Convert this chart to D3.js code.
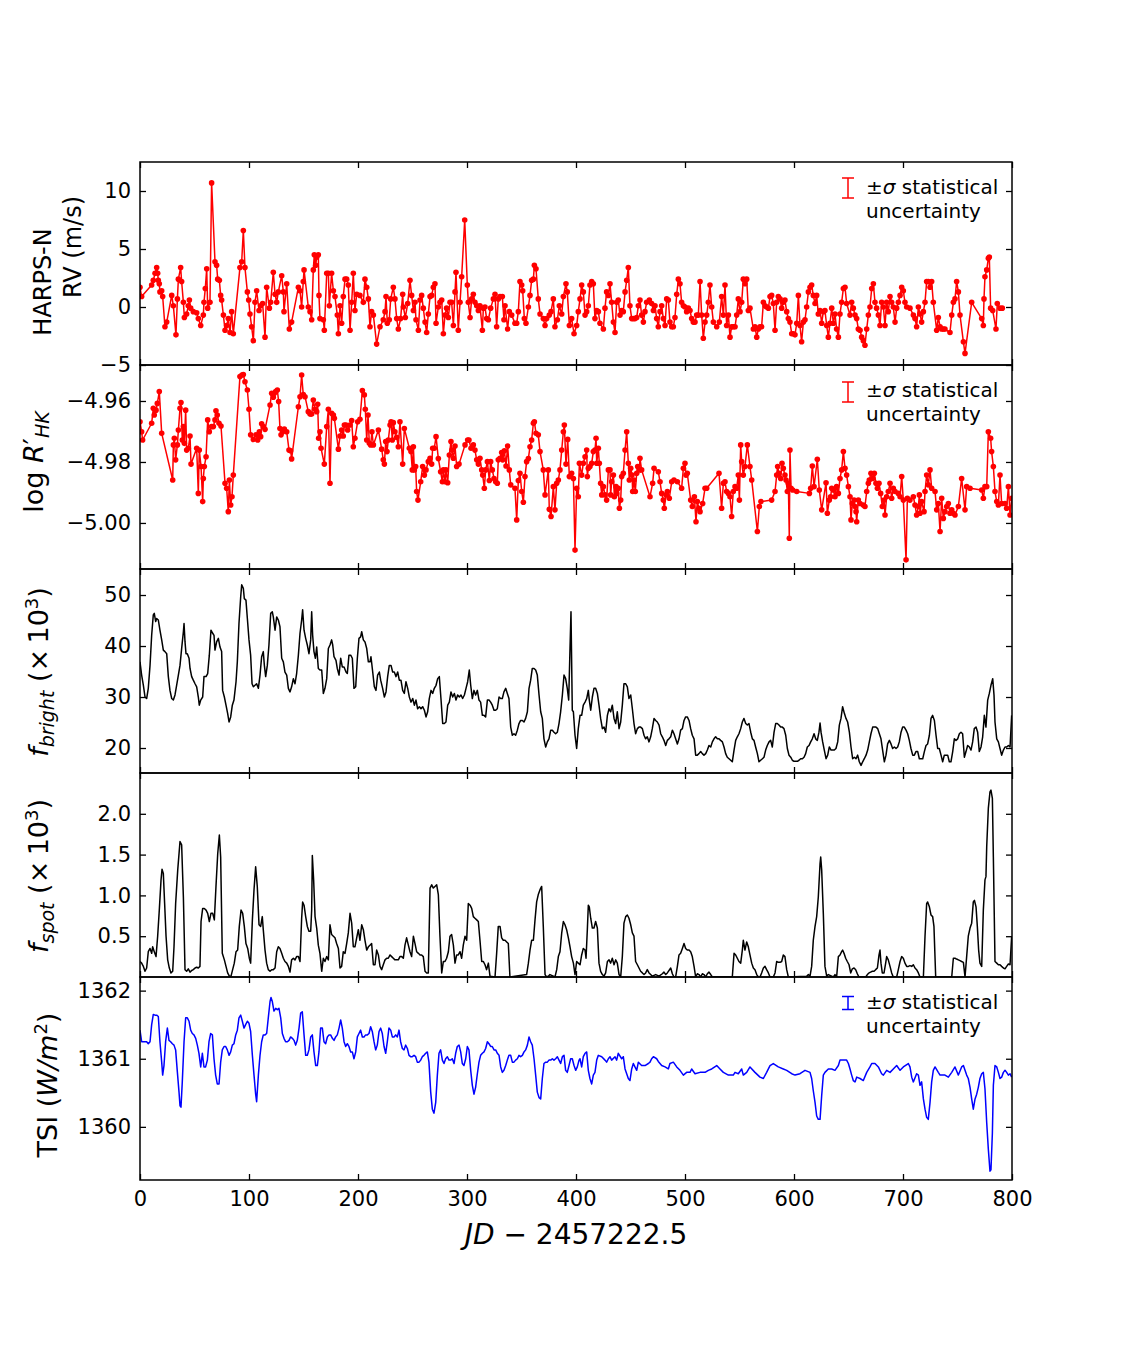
<!DOCTYPE html>
<html><head><meta charset="utf-8">
<script src="https://cdn.jsdelivr.net/npm/d3@7"></script>
<style>body{margin:0;background:#fff}</style>
</head><body>
<script>
const xTicks=[0,100,200,300,400,500,600,700,800];
const rvTicks=[-5,0,5,10];
const logrTicks=[-5.00,-4.98,-4.96];
const brightTicks=[20,30,40,50];
const spotTicks=[0.5,1.0,1.5,2.0];
const tsiTicks=[1360,1361,1362];

const rvData=[[0,1.7],[1.5,0.9],[10.7,1.9],[12.2,2.3],[13.8,2.9],[15.3,3.4],[16.2,2.9],[16.8,2.3],[17.7,2.0],[18.3,1.3],[19.9,1.4],[20.8,0.9],[22.9,-1.7],[24.5,-1.3],[29.1,1.0],[30.6,0.1],[33.0,-2.4],[34.3,0.7],[35.2,2.4],[37.3,3.4],[38.2,2.2],[39.8,0.4],[40.7,-0.9],[42.8,-0.6],[44.3,0.1],[45.3,0.6],[46.5,-0.1],[48.9,-0.4],[52.0,-0.5],[53.5,-1.0],[55.7,-1.6],[58.1,-0.7],[58.7,0.4],[59.9,1.6],[61.2,3.3],[62.1,-0.1],[64.2,0.4],[65.7,10.7],[68.8,3.9],[70.3,3.6],[71.3,2.4],[72.8,2.3],[74.0,1.0],[74.9,0.6],[76.5,-0.7],[78.0,-2.0],[79.5,-1.6],[81.0,-1.0],[82.6,-2.2],[84.1,-0.4],[85.6,-2.3],[91.7,3.4],[93.3,3.9],[94.8,6.6],[96.3,3.4],[98.5,1.3],[99.7,0.6],[100.9,-0.6],[102.4,-1.7],[104.0,-2.9],[105.5,0.4],[107.0,1.4],[109.2,-0.3],[110.7,0.1],[112.5,0.3],[114.7,-2.6],[116.2,1.7],[118.7,-0.1],[119.9,0.4],[122.3,3.0],[123.9,1.1],[125.4,0.4],[126.9,1.3],[130.0,2.7],[131.5,1.3],[132.1,-0.4],[134.6,2.0],[137.0,-1.9],[139.1,-1.3],[145.3,1.7],[146.8,1.4],[148.3,0.0],[149.8,2.2],[150.5,3.2],[154.4,0.0],[156.0,-0.4],[157.5,-1.1],[159.0,3.2],[159.9,4.5],[161.2,3.6],[162.1,4.3],[163.6,4.5],[164.2,1.0],[165.1,-1.0],[168.2,-1.1],[169.1,-2.0],[171.3,2.9],[172.8,2.9],[173.7,0.1],[175.8,2.9],[177.4,1.4],[178.9,0.9],[181.0,-0.7],[182.0,-2.3],[183.5,0.1],[185.0,-1.4],[186.5,0.9],[188.1,2.4],[189.6,2.4],[191.1,1.9],[192.7,-2.0],[194.2,0.4],[195.7,2.9],[197.2,-0.3],[198.8,1.1],[201.8,1.0],[204.9,0.4],[206.4,2.4],[208.0,1.7],[209.5,0.7],[211.0,-1.7],[212.5,-0.4],[214.1,-0.7],[217.1,-3.2],[220.2,-1.7],[223.2,-1.1],[224.8,-0.4],[225.7,0.9],[226.9,-1.4],[228.7,-1.1],[230.0,0.7],[232.4,1.7],[233.9,0.7],[235.5,-1.0],[237.0,-1.9],[239.1,-1.0],[241.0,1.1],[241.6,0.0],[243.4,-0.9],[245.6,0.3],[247.7,2.3],[249.2,1.0],[250.8,-0.3],[252.3,0.4],[253.2,-1.1],[255.4,-2.0],[256.9,0.6],[258.4,1.0],[259.9,-0.1],[261.5,-1.3],[263.0,-2.2],[264.5,-0.6],[266.1,0.9],[267.6,1.0],[269.1,1.7],[270.6,2.0],[271.6,-1.4],[273.7,0.0],[275.2,0.4],[276.8,0.6],[278.3,-2.3],[279.8,-0.7],[281.3,-0.1],[282.9,-0.9],[284.4,0.4],[285.9,0.4],[287.5,-1.6],[289.0,1.3],[289.9,3.0],[292.0,-2.0],[293.6,0.4],[295.1,2.6],[297.9,7.5],[300.3,1.9],[301.2,0.4],[302.8,-0.9],[304.3,0.7],[305.8,1.1],[307.3,0.4],[308.9,0.1],[310.4,-0.3],[311.9,0.1],[314.1,-2.0],[315.0,-0.1],[316.5,0.0],[318.0,-1.0],[319.6,-1.1],[321.7,-0.1],[324.2,0.7],[325.7,1.1],[327.2,-1.7],[328.7,0.7],[330.3,0.9],[332.4,0.9],[333.9,-1.1],[334.9,0.1],[337.3,-1.9],[338.8,-0.4],[341.0,-0.7],[344.0,-1.4],[345.6,-1.4],[347.1,-0.4],[348.6,2.2],[350.2,1.9],[351.1,1.4],[352.6,-1.0],[354.1,-1.4],[356.3,0.0],[357.8,1.0],[359.3,2.3],[360.9,2.4],[361.8,3.6],[363.3,3.3],[365.4,0.7],[367.0,-0.6],[370.0,-1.0],[371.6,-1.6],[373.1,-1.0],[375.5,-0.7],[377.1,-0.4],[379.2,0.7],[380.7,-1.7],[382.9,-1.1],[384.7,0.1],[386.9,-0.6],[388.4,0.9],[390.8,2.0],[392.0,1.3],[393.9,-1.6],[396.0,-1.0],[398.2,-2.3],[400.6,-1.6],
[402.1,-0.4],[403.7,0.7],[405.2,1.9],[406.7,1.3],[408.3,-0.7],[409.8,-0.4],[411.3,0.1],[412.8,1.9],[414.4,2.2],[415.9,2.0],[417.4,-1.0],[419.0,-0.3],[420.5,-0.4],[422.0,-1.4],[425.1,-1.9],[426.6,-0.1],[428.1,1.3],[429.7,1.0],[431.2,2.0],[432.7,0.4],[434.3,-1.3],[435.8,-2.2],[437.3,0.4],[438.8,0.6],[440.4,-0.7],[441.9,-0.3],[443.4,-0.4],[445.0,1.3],[446.5,2.3],[448.0,3.4],[449.5,0.1],[451.1,-1.0],[452.6,-1.0],[454.1,-1.0],[455.7,-0.9],[457.2,0.1],[458.7,0.6],[460.2,-0.7],[461.8,-1.3],[463.3,-0.4],[464.8,0.4],[467.3,0.6],[469.4,0.3],[471.0,-0.3],[472.5,0.1],[474.0,-1.0],[475.5,-1.7],[477.1,-0.4],[478.6,0.1],[480.1,-1.0],[481.7,-1.6],[483.2,0.7],[484.7,0.6],[486.2,-1.3],[487.8,-1.7],[489.3,-1.7],[490.8,-0.9],[492.4,1.1],[493.9,2.4],[495.4,2.0],[496.9,0.4],[498.5,0.1],[500.0,0.0],[501.5,-0.4],[503.1,-0.1],[504.6,-0.3],[506.1,-1.0],[507.6,-1.3],[509.2,-1.3],[510.7,-0.7],[512.2,-0.7],[513.8,2.2],[515.3,-0.7],[516.8,-2.7],[518.4,-1.3],[519.9,-0.7],[521.4,0.4],[522.9,1.9],[524.5,0.0],[526.0,-1.3],[529.1,-1.7],[531.5,-1.3],[533.6,0.9],[535.2,-0.7],[536.7,1.9],[538.2,-1.6],[539.8,-0.7],[541.3,-2.6],[542.8,-1.7],[544.3,-1.7],[545.9,-1.7],[547.4,-0.7],[548.9,0.7],[550.5,-0.4],[552.0,0.4],[553.5,2.4],[555.0,2.0],[556.6,2.4],[558.1,-0.3],[559.6,-0.1],[562.7,-1.9],[564.2,-1.7],[565.8,-2.6],[567.3,-1.9],[568.8,-1.7],[570.3,-1.7],[571.9,0.4],[573.4,0.1],[574.9,0.0],[576.5,-0.1],[578.0,0.9],[579.5,1.0],[581.0,0.3],[582.6,-2.0],[584.1,0.4],[585.6,0.9],[587.2,0.7],[588.7,-0.1],[590.2,0.4],[591.7,0.6],[593.3,-0.4],[594.8,-1.0],[596.3,-1.3],[597.9,-2.3],[599.4,-2.3],[600.9,-2.4],[602.5,-1.4],[604.0,1.0],[605.5,-1.6],[607.0,-3.0],[608.6,-1.3],[610.1,-1.1],[611.6,0.0],[613.2,1.3],[614.7,1.7],[616.2,1.9],[617.7,1.0],[619.3,0.3],[620.8,1.0],[622.3,-0.6],[623.9,-0.3],[625.4,-1.4],[626.9,-0.4],[628.4,-0.3],[630.0,-1.6],[631.5,-2.6],[633.0,-1.4],[634.6,-0.1],[636.1,-1.4],[637.6,-0.6],[639.1,-1.9],[640.7,-2.6],[642.2,-0.6],[643.7,0.4],[645.3,1.6],[646.8,1.7],[648.3,0.3],[651.4,-0.7],[652.9,0.4],[654.4,-0.1],[656.0,-0.7],[657.5,-1.0],[659.0,-1.9],[660.6,-2.0],[662.1,-2.6],[663.6,-2.9],[665.1,-3.3],[666.7,-1.9],[668.2,-0.7],[669.7,0.0],[671.3,1.6],[672.8,2.0],[674.3,0.4],[675.8,-0.1],[677.4,-0.7],[678.9,-1.6],[680.4,0.4],[682.0,0.0],[683.5,-1.6],[685.0,0.4],[686.5,-0.4],[688.1,0.9],[689.6,0.4],[691.1,0.0],[692.7,-1.3],[694.2,-0.1],[695.7,0.4],[697.3,1.0],[698.8,1.7],[700.3,1.4],[701.8,0.4],[703.4,0.0],[706.4,-0.1],[709.5,-0.7],[711.0,-1.0],[712.5,-1.7],[714.1,0.0],[715.6,-0.6],[717.1,-1.3],[718.7,-0.4],[720.2,0.4],[721.7,2.2],[723.2,2.2],[724.8,1.7],[726.3,2.2],[727.8,0.4],[730.9,-2.0],[732.4,-0.9],[734.0,-1.7],[735.5,-1.9],[737.0,-1.9],[738.5,-1.9],[743.1,-2.2],[744.7,-0.7],[746.2,0.4],[747.7,0.7],[749.2,2.2],[750.8,1.3],[752.3,-0.7],[755.4,-3.0],[756.9,-4.0],[763.0,0.4],[772.2,-1.0],[773.7,-1.6],[774.3,0.7],[775.2,2.6],[776.8,3.2],[778.3,4.2],[779.2,4.3],[780.4,-0.1],[782.3,-0.3],[785.3,-1.9],[786.5,0.3],[789.0,-0.1],[791.1,-0.1]];

const logrData=[[0,-4.9668],[1.5,-4.9701],[2.4,-4.9728],[10.7,-4.9673],[12.2,-4.9624],[13.1,-4.9646],[14.7,-4.9630],[15.9,-4.9608],[17.7,-4.9569],[19.9,-4.9706],[30.0,-4.9859],[30.6,-4.9744],[31.5,-4.9722],[32.7,-4.9793],[34.3,-4.9744],[35.2,-4.9695],[36.7,-4.9624],[37.6,-4.9605],[38.8,-4.9728],[39.8,-4.9684],[40.7,-4.9739],[41.9,-4.9630],[42.8,-4.9761],[44.3,-4.9755],[45.9,-4.9715],[46.8,-4.9807],[52.0,-4.9755],[53.5,-4.9903],[54.4,-4.9761],[56.0,-4.9815],[57.5,-4.9930],[58.1,-4.9854],[59.0,-4.9815],[60.6,-4.9783],[62.1,-4.9662],[63.6,-4.9701],[65.7,-4.9684],[67.3,-4.9684],[68.8,-4.9662],[69.7,-4.9632],[70.9,-4.9646],[72.5,-4.9673],[74.3,-4.9682],[78.0,-4.9870],[79.5,-4.9886],[81.0,-4.9963],[82.0,-4.9859],[83.2,-4.9941],[84.4,-4.9914],[85.6,-4.9843],[91.7,-4.9520],[93.6,-4.9515],[94.8,-4.9513],[96.3,-4.9537],[98.5,-4.9564],[100.0,-4.9627],[101.5,-4.9711],[104.0,-4.9726],[106.4,-4.9711],[108.0,-4.9728],[109.5,-4.9701],[110.7,-4.9717],[111.6,-4.9675],[113.1,-4.9684],[114.7,-4.9693],[119.3,-4.9613],[120.8,-4.9575],[122.3,-4.9588],[123.2,-4.9575],[124.5,-4.9569],[126.0,-4.9564],[127.2,-4.9602],[128.4,-4.9690],[129.4,-4.9711],[130.9,-4.9701],[132.4,-4.9692],[134.6,-4.9701],[136.7,-4.9761],[138.2,-4.9763],[139.1,-4.9790],[145.3,-4.9619],[146.8,-4.9586],[148.3,-4.9515],[149.8,-4.9579],[151.4,-4.9586],[154.4,-4.9635],[156.0,-4.9643],[157.5,-4.9643],[159.0,-4.9597],[160.6,-4.9627],[162.1,-4.9635],[163.0,-4.9611],[163.9,-4.9722],[165.1,-4.9701],[166.1,-4.9755],[169.1,-4.9807],[171.3,-4.9684],[172.8,-4.9627],[174.3,-4.9870],[175.8,-4.9640],[177.4,-4.9646],[178.3,-4.9657],[182.0,-4.9758],[183.5,-4.9715],[185.0,-4.9695],[186.5,-4.9715],[187.5,-4.9679],[189.0,-4.9679],[190.5,-4.9695],[192.7,-4.9679],[194.2,-4.9664],[195.7,-4.9750],[197.2,-4.9722],[199.7,-4.9668],[201.8,-4.9660],[204.0,-4.9566],[205.8,-4.9580],[206.7,-4.9627],[208.0,-4.9728],[209.2,-4.9646],[210.4,-4.9739],[211.6,-4.9744],[212.8,-4.9701],[214.1,-4.9744],[218.7,-4.9695],[221.7,-4.9758],[223.2,-4.9793],[224.2,-4.9807],[225.4,-4.9733],[226.6,-4.9766],[227.8,-4.9728],[229.4,-4.9679],[230.3,-4.9668],[231.5,-4.9728],[232.4,-4.9671],[233.9,-4.9701],[235.5,-4.9719],[237.0,-4.9750],[238.5,-4.9668],[241.0,-4.9807],[242.5,-4.9690],[247.1,-4.9755],[248.6,-4.9766],[249.8,-4.9826],[250.8,-4.9750],[251.7,-4.9826],[252.9,-4.9815],[253.8,-4.9897],[255.0,-4.9925],[257.5,-4.9865],[259.3,-4.9815],[260.9,-4.9843],[262.4,-4.9826],[264.5,-4.9799],[266.1,-4.9788],[267.6,-4.9807],[268.5,-4.9755],[270.0,-4.9755],[271.6,-4.9717],[273.7,-4.9789],[275.8,-4.9832],[277.4,-4.9865],[278.3,-4.9826],[279.8,-4.9865],[280.7,-4.9826],[282.3,-4.9868],[283.8,-4.9777],[285.3,-4.9733],[286.2,-4.9761],[287.5,-4.9788],[289.0,-4.9748],[290.5,-4.9815],[292.7,-4.9807],[298.2,-4.9744],[300.6,-4.9728],[301.8,-4.9728],[303.7,-4.9755],[305.8,-4.9744],[307.3,-4.9761],[308.9,-4.9793],[310.4,-4.9807],[311.9,-4.9788],[313.5,-4.9826],[314.4,-4.9843],[315.9,-4.9886],[317.1,-4.9826],[318.7,-4.9799],[320.5,-4.9861],[321.7,-4.9799],[323.2,-4.9826],[324.8,-4.9854],[326.3,-4.9865],[327.8,-4.9870],[328.7,-4.9793],[330.3,-4.9788],[331.8,-4.9769],[332.7,-4.9793],[334.3,-4.9763],[335.8,-4.9813],[337.3,-4.9748],[338.8,-4.9826],[340.1,-4.9875],[344.0,-4.9886],[345.6,-4.9990],[347.1,-4.9861],[348.6,-4.9837],[350.2,-4.9897],[351.7,-4.9932],[353.2,-4.9848],[354.7,-4.9799],[356.3,-4.9789],[357.8,-4.9750],[359.3,-4.9728],[360.9,-4.9673],[361.8,-4.9668],[363.3,-4.9706],[365.4,-4.9711],[367.0,-4.9766],[370.0,-4.9826],[371.6,-4.9908],[374.6,-4.9826],[375.5,-4.9955],[377.1,-4.9979],[379.2,-4.9881],[380.7,-4.9957],[382.3,-4.9870],[383.8,-4.9859],[385.3,-4.9826],[386.9,-4.9761],[388.4,-4.9701],[389.3,-4.9679],[390.8,-4.9807],[392.4,-4.9726],[393.9,-4.9848],[396.0,-4.9837],[397.6,-4.9854],[399.1,-5.0089],[400.6,-4.9886],[402.1,-4.9914],
[403.1,-4.9804],[405.2,-4.9843],[406.7,-4.9804],[408.3,-4.9783],[409.8,-4.9761],[410.4,-4.9848],[411.3,-4.9821],[412.8,-4.9815],[414.4,-4.9804],[415.9,-4.9766],[417.4,-4.9761],[418.4,-4.9722],[419.0,-4.9804],[420.5,-4.9755],[421.4,-4.9804],[422.6,-4.9870],[423.6,-4.9908],[425.1,-4.9881],[426.6,-4.9908],[428.1,-4.9925],[429.7,-4.9826],[431.2,-4.9826],[431.8,-4.9908],[432.7,-4.9865],[434.3,-4.9843],[435.2,-4.9914],[436.7,-4.9881],[437.3,-4.9903],[438.8,-4.9886],[439.8,-4.9952],[441.0,-4.9925],[441.9,-4.9848],[443.4,-4.9837],[445.0,-4.9761],[446.5,-4.9701],[448.0,-4.9804],[448.9,-4.9859],[450.2,-4.9821],[451.4,-4.9843],[452.0,-4.9897],[453.2,-4.9859],[454.4,-4.9897],[455.7,-4.9837],[456.6,-4.9815],[458.1,-4.9826],[458.7,-4.9788],[460.2,-4.9826],[467.9,-4.9914],[470.3,-4.9870],[471.6,-4.9821],[475.5,-4.9832],[477.1,-4.9865],[478.6,-4.9903],[480.1,-4.9925],[481.0,-4.9952],[482.6,-4.9908],[483.8,-4.9897],[485.6,-4.9919],[487.8,-4.9865],[489.9,-4.9859],[493.0,-4.9865],[496.9,-4.9886],[498.5,-4.9821],[500.0,-4.9804],[500.9,-4.9843],[502.1,-4.9837],[505.2,-4.9925],[506.7,-4.9946],[508.6,-4.9914],[510.1,-4.9996],[511.3,-4.9930],[512.8,-4.9952],[513.8,-4.9963],[516.2,-4.9936],[518.4,-4.9886],[519.9,-4.9886],[531.2,-4.9837],[533.6,-4.9952],[535.2,-4.9870],[536.7,-4.9865],[538.2,-4.9897],[539.8,-4.9903],[541.3,-4.9914],[542.8,-4.9979],[544.3,-4.9897],[545.9,-4.9881],[547.4,-4.9886],[548.9,-4.9843],[549.9,-4.9925],[551.1,-4.9744],[552.0,-4.9799],[553.5,-4.9843],[555.0,-4.9815],[557.2,-4.9744],[559.6,-4.9815],[561.2,-4.9859],[566.4,-5.0028],[568.2,-4.9946],[569.7,-4.9930],[579.5,-4.9925],[582.6,-4.9897],[584.1,-4.9843],[585.0,-4.9815],[586.2,-4.9837],[587.8,-4.9854],[589.0,-4.9804],[590.2,-4.9821],[591.7,-4.9843],[592.7,-4.9859],[593.9,-4.9897],[594.8,-4.9870],[595.7,-5.0050],[596.3,-4.9761],[597.3,-4.9886],[598.8,-4.9892],[602.5,-4.9897],[614.1,-4.9903],[615.3,-4.9886],[616.8,-4.9813],[618.4,-4.9881],[621.4,-4.9791],[623.2,-4.9892],[625.4,-4.9957],[629.4,-4.9868],[630.6,-4.9968],[632.4,-4.9925],[633.6,-4.9914],[634.6,-4.9886],[636.1,-4.9892],[637.6,-4.9914],[639.1,-4.9881],[640.7,-4.9903],[642.2,-4.9854],[643.7,-4.9826],[645.3,-4.9766],[646.8,-4.9821],[648.3,-4.9843],[649.9,-4.9881],[651.4,-4.9914],[652.3,-4.9990],[653.5,-4.9936],[655.1,-4.9925],[656.0,-4.9946],[656.9,-4.9963],[657.5,-4.9996],[659.0,-4.9925],[660.6,-4.9936],[663.6,-4.9941],[665.1,-4.9946],[666.7,-4.9897],[668.2,-4.9870],[669.1,-4.9859],[670.6,-4.9837],[672.2,-4.9854],[673.7,-4.9837],[675.2,-4.9870],[676.5,-4.9886],[678.0,-4.9870],[679.5,-4.9903],[681.0,-4.9946],[682.6,-4.9925],[683.5,-4.9974],[685.0,-4.9914],[686.5,-4.9897],[688.1,-4.9870],[689.6,-4.9919],[691.1,-4.9886],[692.7,-4.9897],[695.7,-4.9903],[697.3,-4.9914],[698.8,-4.9848],[700.3,-4.9925],[702.8,-5.0121],[704.0,-4.9919],[706.4,-4.9925],[709.5,-4.9914],[711.0,-4.9941],[712.5,-4.9974],[714.1,-4.9946],[715.0,-4.9908],[715.6,-4.9968],[717.1,-4.9930],[719.3,-4.9963],[720.2,-4.9897],[721.7,-4.9843],[723.2,-4.9875],[724.8,-4.9826],[726.3,-4.9886],[729.4,-4.9897],[730.9,-4.9957],[732.4,-4.9936],[734.0,-5.0028],[735.5,-4.9919],[737.0,-4.9985],[738.5,-4.9963],[740.1,-4.9946],[741.6,-4.9936],[743.1,-4.9968],[744.7,-4.9957],[746.2,-4.9968],[747.7,-4.9974],[750.8,-4.9946],[753.8,-4.9854],[756.9,-4.9957],[758.4,-4.9881],[761.5,-4.9886],[772.2,-4.9892],[773.7,-4.9919],[775.2,-4.9881],[776.8,-4.9881],[778.3,-4.9701],[780.4,-4.9722],[781.3,-4.9766],[782.9,-4.9815],[784.4,-4.9897],[786.0,-4.9930],[787.5,-4.9941],[789.0,-4.9843],[790.5,-4.9936],[793.6,-4.9936],[795.1,-4.9952],[796.7,-4.9881],[798.2,-4.9974],[799.7,-4.9919]];

const brightData=[[0.0,36.9],[1.5,34.3],[3.1,32.3],[4.6,30.0],[6.1,29.7],[7.6,31.7],[9.2,36.2],[10.7,42.1],[12.2,46.1],[13.1,46.4],[14.4,44.8],[15.3,45.4],[16.8,45.1],[18.3,43.1],[19.9,41.2],[21.4,39.2],[22.9,38.9],[24.5,38.5],[26.0,34.0],[27.5,31.3],[29.1,29.7],[30.6,29.4],[32.1,30.4],[33.6,32.3],[35.2,34.3],[36.7,36.2],[38.2,39.5],[39.8,42.8],[40.4,44.4],[41.3,40.8],[42.2,38.5],[43.4,38.5],[45.0,37.6],[45.9,35.6],[47.4,34.0],[48.9,33.3],[50.5,32.6],[52.0,32.0],[53.5,30.0],[54.4,28.4],[55.7,29.4],[57.5,30.0],[58.7,34.0],[60.6,34.0],[62.1,34.6],[63.6,38.2],[65.1,43.1],[66.7,42.5],[67.9,42.1],[68.8,39.2],[70.3,40.8],[71.9,41.5],[73.4,39.8],[74.9,38.9],[75.8,31.3],[77.4,30.0],[78.9,28.4],[80.4,26.8],[81.7,25.1],[83.2,26.1],[84.7,28.4],[86.2,29.4],[88.1,33.0],[89.3,36.9],[90.8,44.4],[92.4,49.7],[93.3,52.0],[94.8,51.3],[95.7,49.3],[97.2,49.0],[98.5,45.4],[100.0,41.2],[101.5,38.2],[102.8,32.6],[104.0,32.0],[105.5,32.3],[107.0,32.6],[108.6,31.7],[110.1,34.3],[111.6,37.9],[113.1,38.9],[114.1,36.2],[115.3,34.0],[116.8,36.2],[118.3,40.2],[119.9,46.4],[121.4,46.7],[122.3,45.7],[123.9,43.1],[125.4,45.7],[126.9,45.1],[128.4,43.8],[130.0,37.6],[131.5,36.9],[133.0,34.9],[134.6,34.3],[136.1,31.7],[137.6,31.0],[139.1,32.0],[140.7,33.6],[142.2,32.6],[143.7,34.6],[145.3,38.2],[146.8,42.5],[148.3,45.1],[149.2,47.1],[150.5,43.1],[152.0,41.5],[153.5,40.2],[155.0,38.5],[156.6,41.2],[157.5,46.7],[158.4,42.1],[159.6,38.9],[160.9,37.6],[162.1,39.8],[163.6,35.6],[165.1,35.3],[166.7,35.3],[168.2,30.7],[169.7,31.7],[171.3,33.6],[172.8,39.5],[174.3,40.2],[175.8,41.2],[176.8,40.2],[178.0,37.9],[179.8,37.2],[181.0,35.6],[182.6,34.3],[184.1,37.6],[185.6,35.9],[187.2,35.9],[189.0,34.9],[190.2,34.6],[191.7,38.2],[193.3,38.2],[194.8,37.6],[196.3,31.7],[197.9,32.0],[199.4,37.6],[200.9,41.5],[202.4,41.8],[203.4,42.8],[204.9,41.2],[206.4,40.8],[208.0,39.5],[209.5,36.9],[211.0,36.9],[211.9,37.9],[213.5,34.9],[215.0,32.0],[216.5,31.3],[218.0,34.3],[219.6,34.9],[220.8,33.3],[222.6,31.7],[224.2,30.0],[225.7,31.0],[227.2,34.0],[228.7,36.2],[230.3,36.2],[231.8,34.9],[233.3,34.9],[234.9,34.0],[236.4,34.9],[237.9,33.3],[239.4,33.3],[241.0,31.3],[242.5,30.7],[244.0,33.0],[245.6,31.7],[247.1,30.0],[248.6,29.0],[250.2,29.7],[251.7,28.4],[253.2,29.4],[254.7,27.7],[256.3,28.1],[257.8,27.7],[259.3,28.1],[260.9,27.4],[262.4,26.1],[263.9,27.1],[265.4,29.7],[267.0,31.3],[268.5,30.7],[270.0,31.7],[271.6,32.3],[273.1,33.6],[274.6,34.0],[276.1,29.7],[277.7,24.8],[279.2,24.8],[280.7,25.1],[282.3,28.4],[283.8,29.0],[285.3,31.0],[286.9,30.0],[288.4,30.7],[289.9,29.4],[291.4,30.4],[293.0,30.0],[294.5,30.4],[296.0,29.7],[297.6,30.4],[299.1,31.7],[300.6,33.0],[302.1,35.3],[303.4,32.3],[304.9,29.7],[306.4,31.3],[307.9,30.4],[309.5,31.3],[311.0,29.4],[312.5,29.0],[314.1,26.4],[315.6,26.4],[317.1,26.1],[318.7,29.4],[320.2,29.4],[321.7,29.0],[323.2,28.4],[324.8,27.4],[326.3,27.4],[327.8,27.7],[329.4,30.0],[330.9,29.7],[332.4,29.7],[333.9,31.0],[335.5,31.7],[337.0,30.7],[338.5,29.7],[340.1,24.1],[341.6,22.5],[343.1,22.8],[344.6,22.5],[346.2,23.5],[347.7,24.8],[349.2,25.4],[350.8,25.4],[352.3,25.1],[353.8,25.8],[355.4,27.1],[356.9,31.7],[358.4,33.3],[359.9,35.6],[361.5,35.6],[363.0,35.3],[364.5,34.3],[366.1,30.4],[367.6,27.1],[369.1,25.8],[370.6,21.8],[372.2,20.2],[373.7,21.2],[375.2,21.8],[376.8,23.5],[378.3,23.5],[379.8,23.1],[381.3,22.8],[382.9,23.1],[384.4,24.8],[385.9,27.1],[387.5,30.4],[389.0,34.3],[390.5,33.6],[392.0,31.7],[393.3,29.4],[394.5,39.5],[395.4,46.7],[396.6,27.4],[397.6,27.1],[399.1,22.5],[400.6,19.9],[402.1,23.8],
[403.7,26.4],[405.2,26.4],[406.7,28.4],[408.3,29.0],[409.8,29.7],[411.3,31.3],[412.2,29.4],[413.5,27.4],[415.0,30.0],[416.5,31.7],[418.0,31.7],[419.6,30.7],[421.1,28.4],[422.6,25.8],[424.2,23.8],[425.7,24.1],[427.2,23.1],[428.8,26.4],[430.3,27.7],[431.8,27.1],[433.3,28.4],[434.9,25.8],[436.4,24.8],[437.9,27.1],[439.5,23.8],[441.0,25.1],[442.5,28.4],[444.0,32.6],[445.6,32.6],[447.1,32.0],[448.6,29.7],[450.2,30.4],[451.7,27.7],[453.2,24.8],[454.7,22.8],[456.3,23.8],[457.8,24.1],[459.3,24.1],[460.9,23.8],[462.4,22.5],[463.9,21.8],[465.4,22.2],[467.0,21.2],[468.5,22.2],[470.0,23.8],[471.6,25.8],[473.1,25.4],[474.6,25.1],[476.2,24.5],[477.7,22.8],[479.2,22.2],[480.7,21.5],[482.3,20.5],[483.8,21.5],[485.3,21.8],[486.9,22.2],[488.4,23.5],[489.9,22.8],[491.4,21.8],[493.0,20.8],[494.5,21.8],[496.0,23.5],[497.6,23.8],[499.1,25.4],[500.6,26.1],[502.1,26.1],[503.7,25.4],[505.2,23.8],[506.7,22.5],[508.3,21.8],[509.8,18.6],[511.3,18.6],[512.8,18.9],[514.4,19.3],[515.9,18.9],[517.4,18.6],[519.0,18.9],[520.5,19.6],[522.0,20.5],[523.6,20.2],[525.1,21.2],[526.6,21.8],[528.1,22.2],[529.7,21.8],[531.2,21.8],[532.7,21.5],[534.3,21.2],[535.8,20.2],[537.3,18.9],[538.8,18.2],[540.4,17.9],[541.9,17.6],[543.4,17.3],[545.0,19.6],[546.5,21.5],[548.0,22.2],[549.5,22.8],[551.1,23.8],[552.6,25.1],[554.1,25.8],[555.7,24.8],[557.2,24.5],[558.7,24.8],[560.3,23.1],[561.8,21.8],[563.3,21.5],[564.8,20.2],[566.4,18.9],[567.9,17.3],[569.4,17.6],[571.0,17.9],[572.5,18.2],[574.0,19.6],[575.5,20.5],[577.1,21.2],[578.6,21.5],[580.1,20.2],[581.7,23.1],[583.2,24.8],[584.7,24.8],[586.2,24.5],[587.8,24.1],[589.3,24.1],[590.8,23.8],[592.4,22.5],[593.9,19.9],[595.4,18.6],[597.0,18.2],[598.5,17.6],[600.0,17.4],[601.5,17.4],[603.1,17.4],[604.6,17.6],[606.1,17.9],[607.7,17.9],[609.2,18.2],[610.7,18.9],[612.2,20.2],[613.8,20.5],[615.3,21.2],[616.8,21.8],[618.4,22.8],[619.9,21.8],[621.4,21.5],[622.9,23.1],[623.9,24.9],[624.8,23.1],[626.3,21.2],[627.8,19.6],[629.4,17.9],[630.9,18.6],[632.4,20.2],[634.0,19.6],[635.5,19.6],[637.0,19.6],[638.5,19.9],[640.1,21.2],[641.6,24.5],[643.1,25.8],[644.6,28.1],[646.2,26.8],[647.7,25.8],[649.2,25.1],[650.8,23.1],[652.3,20.2],[653.8,17.9],[655.4,18.2],[656.9,17.9],[658.4,18.6],[659.9,17.3],[661.5,16.6],[663.0,17.3],[664.5,17.9],[666.1,18.6],[667.6,19.6],[669.1,21.2],[670.6,22.8],[672.2,24.1],[673.7,24.1],[675.2,24.1],[676.8,23.8],[678.3,22.8],[679.8,21.8],[681.3,19.6],[682.9,17.3],[684.4,18.6],[685.9,20.8],[687.5,21.5],[689.0,20.8],[690.5,19.9],[692.1,20.2],[693.6,19.9],[695.1,20.2],[696.6,21.2],[698.2,23.1],[699.7,24.1],[701.2,24.1],[702.8,23.5],[704.3,22.8],[705.8,21.5],[707.3,19.9],[708.9,18.6],[710.4,18.6],[711.9,19.3],[713.5,19.3],[715.0,17.9],[716.5,17.9],[718.1,17.9],[719.6,19.3],[721.1,20.5],[722.6,20.8],[724.2,22.5],[725.7,25.8],[727.2,26.4],[728.8,25.4],[730.3,22.5],[731.8,19.9],[733.3,19.9],[734.9,18.6],[736.4,17.3],[737.9,18.6],[739.5,18.6],[741.0,18.6],[742.5,17.3],[744.0,17.3],[745.6,19.3],[747.1,21.8],[748.6,21.5],[750.2,21.8],[751.7,22.8],[753.2,23.1],[754.7,22.8],[756.3,18.2],[757.8,19.3],[759.3,20.5],[760.9,20.2],[762.4,19.6],[763.9,21.2],[765.4,23.8],[767.0,24.1],[768.5,23.1],[770.0,19.3],[771.6,20.2],[773.1,22.2],[774.6,26.4],[776.1,24.1],[777.7,29.4],[779.2,30.7],[780.7,32.3],[782.3,33.6],[783.5,30.4],[784.4,25.1],[786.0,21.8],[787.5,21.2],[789.0,19.9],[790.5,18.6],[792.1,19.6],[793.6,20.2],[795.1,20.2],[796.7,20.5],[798.2,20.2],[799.7,26.4]];

const spotData=[[0.0,0.19],[1.5,0.17],[3.1,0.13],[4.6,0.07],[6.1,0.11],[7.6,0.31],[9.2,0.35],[10.7,0.29],[11.6,0.37],[13.1,0.31],[14.7,0.25],[16.2,0.50],[17.7,0.82],[19.3,1.19],[20.2,1.32],[21.4,1.27],[22.6,0.90],[23.9,0.50],[25.4,0.21],[26.9,0.11],[28.4,0.05],[30.0,0.07],[31.2,0.37],[32.7,0.90],[34.6,1.31],[36.7,1.66],[38.2,1.62],[39.8,0.98],[41.3,0.09],[42.8,0.07],[44.3,0.10],[45.9,0.06],[47.4,0.08],[48.9,0.09],[50.5,0.11],[52.0,0.12],[53.5,0.11],[55.0,0.13],[56.0,0.68],[57.5,0.84],[59.0,0.84],[60.6,0.82],[62.1,0.78],[63.6,0.68],[65.1,0.78],[66.7,0.78],[68.2,0.70],[69.7,1.11],[71.3,1.51],[72.8,1.74],[74.0,1.47],[75.5,0.29],[77.4,0.21],[78.9,0.13],[80.4,0.05],[82.0,0.01],[83.5,0.01],[85.0,0.09],[86.5,0.17],[88.1,0.31],[89.6,0.33],[91.1,0.62],[92.7,0.82],[94.2,0.78],[95.7,0.62],[97.2,0.41],[98.8,0.35],[100.3,0.23],[101.5,0.17],[103.1,0.70],[104.6,1.07],[106.1,1.35],[107.6,1.11],[109.2,0.64],[110.7,0.62],[112.2,0.74],[113.1,0.58],[114.7,0.33],[116.2,0.17],[117.7,0.09],[119.3,0.07],[120.8,0.09],[122.3,0.09],[123.9,0.11],[125.4,0.31],[126.9,0.37],[128.4,0.35],[130.0,0.29],[131.5,0.23],[133.0,0.19],[134.6,0.17],[136.1,0.13],[137.6,0.06],[139.1,0.21],[140.7,0.23],[142.2,0.21],[143.7,0.25],[145.3,0.25],[146.8,0.19],[148.3,0.72],[149.2,0.92],[150.5,0.88],[152.0,0.74],[153.5,0.62],[155.0,0.56],[156.6,0.56],[157.5,0.82],[158.1,1.49],[159.3,1.19],[160.6,0.74],[162.1,0.60],[163.6,0.39],[165.1,0.29],[166.7,0.07],[168.2,0.23],[169.7,0.19],[171.3,0.25],[172.8,0.21],[174.3,0.64],[175.8,0.52],[177.4,0.50],[178.9,0.48],[180.4,0.41],[182.0,0.35],[183.5,0.11],[185.0,0.13],[186.5,0.31],[188.1,0.29],[189.6,0.41],[191.1,0.54],[192.7,0.78],[194.2,0.66],[195.7,0.37],[197.2,0.37],[198.8,0.48],[200.3,0.58],[201.8,0.45],[203.4,0.64],[204.9,0.58],[206.4,0.45],[208.0,0.33],[209.5,0.37],[211.0,0.39],[212.5,0.41],[214.1,0.15],[215.6,0.15],[217.1,0.33],[218.7,0.27],[220.2,0.13],[221.7,0.09],[223.2,0.15],[224.8,0.21],[226.3,0.23],[227.8,0.23],[229.4,0.27],[230.9,0.25],[232.4,0.23],[233.9,0.21],[235.5,0.21],[237.0,0.21],[238.5,0.25],[240.1,0.25],[241.6,0.23],[243.1,0.39],[244.6,0.48],[246.2,0.39],[247.7,0.31],[249.2,0.25],[250.8,0.50],[252.3,0.41],[253.8,0.31],[255.4,0.29],[256.9,0.27],[258.4,0.27],[259.9,0.25],[261.5,0.07],[263.0,0.05],[264.5,0.05],[266.1,1.09],[267.6,1.13],[269.1,1.09],[270.6,1.11],[272.2,1.13],[273.7,1.01],[275.2,0.50],[276.8,0.05],[278.3,0.19],[279.8,0.19],[281.3,0.23],[282.9,0.31],[284.4,0.50],[285.9,0.52],[287.5,0.39],[289.0,0.17],[290.5,0.27],[292.0,0.27],[293.6,0.31],[295.1,0.23],[296.6,0.39],[298.2,0.50],[299.7,0.45],[301.2,0.90],[302.8,0.88],[304.3,0.84],[305.8,0.74],[307.3,0.72],[308.9,0.70],[310.4,0.68],[311.9,0.45],[313.5,0.19],[315.0,0.19],[316.5,0.15],[318.0,0.09],[319.6,0.17],[321.1,0.01],[325.7,0.0],[327.2,0.29],[328.7,0.62],[330.3,0.62],[331.8,0.48],[333.3,0.45],[334.9,0.45],[336.4,0.43],[337.9,0.41],[339.4,0.0],[354.7,0.03],[356.3,0.17],[357.8,0.33],[359.3,0.45],[360.9,0.45],[362.4,0.70],[363.9,0.92],[365.4,1.01],[367.0,1.07],[368.5,1.11],[370.0,0.62],[371.6,0.03],[373.1,0.0],[374.6,0.01],[376.1,0.03],[380.7,0.0],[382.3,0.09],[383.8,0.25],[385.3,0.31],[386.9,0.54],[388.4,0.68],[389.9,0.64],[391.4,0.58],[393.0,0.48],[394.5,0.37],[396.0,0.25],[397.6,0.17],[399.1,0.03],
[400.6,0.19],[402.1,0.17],[403.7,0.15],[405.2,0.27],[406.7,0.35],[408.3,0.33],[409.2,0.23],[410.4,0.58],[411.3,0.88],[412.2,0.86],[413.5,0.72],[415.0,0.60],[416.5,0.60],[418.0,0.68],[419.6,0.60],[421.1,0.17],[422.6,0.07],[424.2,0.03],[425.7,0.01],[427.2,0.05],[428.8,0.19],[430.3,0.21],[431.8,0.17],[433.3,0.23],[434.9,0.15],[436.4,0.21],[437.9,0.17],[439.5,0.03],[441.0,0.0],[442.5,0.25],[444.0,0.66],[445.6,0.74],[447.1,0.76],[448.6,0.72],[450.2,0.64],[451.7,0.54],[453.2,0.50],[454.7,0.19],[456.3,0.15],[457.8,0.11],[459.3,0.07],[460.9,0.05],[462.4,0.03],[463.9,0.05],[465.4,0.09],[467.0,0.05],[468.5,0.03],[470.0,0.01],[473.1,0.03],[476.2,0.01],[479.2,0.04],[480.7,0.06],[482.3,0.03],[483.8,0.05],[486.9,0.11],[488.4,0.04],[489.9,0.0],[491.4,0.0],[493.0,0.13],[494.5,0.27],[496.0,0.29],[497.6,0.35],[499.1,0.41],[500.6,0.35],[502.1,0.33],[503.7,0.33],[505.2,0.31],[506.7,0.25],[508.3,0.13],[509.8,0.0],[511.3,0.04],[512.8,0.03],[514.4,0.0],[515.9,0.04],[517.4,0.03],[519.0,0.0],[520.5,0.04],[522.0,0.06],[523.6,0.03],[525.1,0.0],[543.4,0.0],[545.0,0.29],[546.5,0.27],[548.0,0.23],[549.5,0.19],[551.1,0.17],[552.6,0.33],[553.5,0.45],[555.0,0.33],[556.6,0.43],[558.1,0.37],[559.6,0.27],[561.2,0.17],[562.7,0.11],[564.2,0.09],[565.8,0.03],[567.3,0.0],[568.8,0.0],[570.3,0.05],[571.9,0.11],[573.4,0.13],[574.9,0.09],[576.5,0.05],[578.0,0.0],[581.0,0.0],[582.6,0.05],[584.1,0.19],[585.6,0.18],[587.2,0.18],[588.7,0.19],[590.2,0.27],[591.7,0.25],[593.3,0.09],[594.8,0.0],[611.6,0.01],[613.2,0.03],[614.7,0.01],[616.2,0.13],[617.7,0.45],[619.3,0.62],[620.8,0.74],[622.3,0.98],[623.9,1.39],[624.5,1.47],[625.4,1.31],[626.9,0.78],[628.4,0.13],[630.0,0.01],[631.5,0.03],[636.1,0.0],[637.6,0.03],[639.1,0.0],[640.7,0.25],[642.2,0.27],[643.7,0.31],[644.6,0.33],[645.9,0.29],[647.4,0.23],[648.9,0.19],[650.5,0.15],[652.0,0.05],[653.5,0.10],[655.1,0.11],[656.6,0.09],[658.1,0.04],[659.6,0.0],[665.8,0.0],[667.3,0.03],[668.8,0.05],[670.3,0.06],[671.9,0.07],[673.4,0.07],[674.9,0.09],[676.5,0.11],[678.0,0.27],[678.9,0.33],[679.8,0.17],[681.0,0.05],[682.6,0.05],[684.1,0.17],[685.0,0.25],[686.5,0.21],[688.1,0.13],[689.6,0.05],[691.1,0.0],[694.2,0.0],[695.7,0.09],[697.3,0.19],[698.8,0.25],[700.3,0.23],[701.8,0.17],[703.4,0.13],[704.9,0.13],[706.4,0.14],[708.0,0.13],[709.5,0.15],[711.0,0.11],[712.5,0.09],[714.1,0.05],[715.6,0.0],[718.7,0.0],[720.2,0.50],[721.7,0.90],[722.6,0.92],[724.2,0.86],[725.7,0.76],[727.2,0.74],[728.4,0.62],[730.0,0.0],[744.7,0.0],[746.2,0.23],[747.7,0.23],[749.2,0.22],[750.8,0.21],[752.3,0.20],[753.8,0.19],[755.4,0.18],[756.9,0.0],[758.4,0.25],[759.9,0.50],[761.5,0.60],[763.0,0.66],[764.5,0.92],[765.5,0.94],[767.0,0.86],[768.2,0.62],[769.4,0.33],[770.6,0.17],[772.2,0.13],[773.7,0.82],[775.2,1.19],[776.1,1.23],[776.8,1.60],[778.3,2.07],[779.8,2.27],[780.7,2.29],[782.0,2.19],[782.9,1.47],[784.4,0.19],[786.0,0.17],[787.5,0.15],[789.0,0.15],[790.5,0.13],[792.1,0.11],[793.6,0.10],[795.1,0.13],[796.7,0.16],[798.2,0.15],[799.7,0.50]];

const tsiData=[[0.0,1361.42],[1.5,1361.25],[3.1,1361.25],[4.6,1361.25],[6.1,1361.25],[7.6,1361.22],[9.2,1361.25],[10.7,1361.50],[12.2,1361.65],[13.8,1361.64],[15.3,1361.64],[16.8,1361.62],[18.3,1361.25],[19.9,1360.95],[20.8,1360.76],[22.0,1360.90],[23.5,1361.25],[25.1,1361.45],[26.6,1361.27],[28.1,1361.25],[29.7,1361.22],[31.2,1361.20],[32.7,1361.13],[34.3,1360.80],[35.8,1360.51],[36.7,1360.31],[37.6,1360.29],[38.8,1360.66],[40.4,1361.25],[41.9,1361.60],[43.4,1361.60],[45.0,1361.55],[46.5,1361.42],[48.0,1361.37],[49.5,1361.35],[51.1,1361.30],[52.6,1361.20],[54.1,1361.08],[55.7,1360.88],[57.2,1361.08],[58.7,1360.88],[60.2,1360.88],[61.8,1360.98],[63.3,1361.25],[64.8,1361.37],[66.4,1361.35],[67.9,1361.00],[69.4,1360.76],[70.9,1360.63],[72.5,1360.63],[74.0,1360.95],[75.5,1361.13],[77.1,1361.18],[78.6,1361.18],[80.1,1361.13],[81.7,1361.05],[83.2,1361.10],[84.7,1361.20],[86.2,1361.22],[87.8,1361.35],[89.3,1361.42],[90.8,1361.60],[92.4,1361.64],[93.9,1361.55],[95.4,1361.45],[96.9,1361.50],[98.5,1361.55],[100.0,1361.52],[101.5,1361.40],[103.1,1361.05],[104.6,1360.76],[106.1,1360.48],[107.0,1360.37],[108.6,1360.76],[110.1,1361.05],[111.6,1361.25],[113.1,1361.35],[114.7,1361.35],[116.2,1361.37],[117.7,1361.60],[119.3,1361.84],[120.2,1361.90],[121.4,1361.84],[122.9,1361.70],[124.5,1361.74],[126.0,1361.72],[127.5,1361.74],[129.1,1361.60],[130.6,1361.37],[132.1,1361.30],[133.6,1361.25],[135.2,1361.25],[136.7,1361.27],[138.2,1361.32],[139.8,1361.30],[141.3,1361.27],[142.8,1361.20],[144.3,1361.27],[145.9,1361.45],[147.4,1361.67],[148.9,1361.69],[150.5,1361.35],[152.0,1361.05],[153.5,1361.05],[155.0,1361.13],[156.6,1361.32],[158.1,1361.35],[159.6,1361.10],[161.2,1360.90],[162.7,1360.90],[164.2,1361.10],[165.7,1361.45],[167.3,1361.45],[168.8,1361.25],[170.3,1361.22],[171.9,1361.32],[173.4,1361.35],[174.9,1361.35],[176.5,1361.30],[178.0,1361.27],[179.5,1361.32],[181.0,1361.35],[182.6,1361.45],[184.1,1361.57],[185.6,1361.45],[187.2,1361.25],[188.7,1361.18],[190.2,1361.22],[191.7,1361.18],[193.3,1361.10],[194.8,1361.10],[196.3,1361.00],[197.9,1361.10],[199.4,1361.32],[200.9,1361.37],[202.4,1361.42],[204.0,1361.32],[205.5,1361.32],[207.0,1361.35],[208.6,1361.35],[210.1,1361.37],[211.6,1361.47],[213.1,1361.40],[214.7,1361.25],[216.2,1361.13],[217.7,1361.20],[219.3,1361.40],[220.8,1361.45],[222.3,1361.37],[223.9,1361.18],[225.4,1361.08],[226.9,1361.25],[228.4,1361.45],[230.0,1361.42],[231.5,1361.32],[233.0,1361.32],[234.6,1361.35],[236.1,1361.32],[237.6,1361.42],[239.1,1361.25],[240.7,1361.15],[242.2,1361.13],[243.7,1361.20],[245.3,1361.15],[246.8,1361.05],[248.3,1361.03],[249.8,1361.03],[251.4,1361.05],[252.9,1361.03],[254.4,1360.95],[256.0,1360.95],[257.5,1360.98],[259.0,1361.03],[260.5,1361.05],[262.1,1361.08],[263.6,1361.10],[265.1,1360.95],[266.7,1360.51],[268.2,1360.26],[269.7,1360.20],[271.3,1360.36],[272.8,1360.76],[274.3,1361.08],[275.8,1361.13],[277.4,1360.98],[278.9,1360.93],[280.4,1361.00],[282.0,1361.03],[283.5,1360.98],[285.0,1360.98],[286.5,1361.00],[288.1,1360.93],[289.6,1361.08],[291.1,1361.18],[292.7,1361.20],[294.2,1361.10],[295.7,1360.93],[297.2,1360.90],[298.8,1361.00],[300.3,1361.18],[301.8,1361.13],[303.4,1360.83],[304.9,1360.61],[306.4,1360.48],[307.9,1360.58],[309.5,1360.78],[311.0,1360.95],[312.5,1361.05],[314.1,1361.08],[315.6,1361.10],[317.1,1361.15],[318.7,1361.25],[320.2,1361.22],[321.7,1361.18],[323.2,1361.18],[324.8,1361.13],[326.3,1361.13],[327.8,1361.08],[329.4,1361.05],[330.9,1360.88],[332.4,1360.80],[333.9,1360.83],[335.5,1360.90],[337.0,1360.98],[338.5,1361.05],[340.1,1361.05],[341.6,1360.95],[343.1,1360.95],[344.6,1360.98],[346.2,1361.00],[347.7,1361.05],[349.2,1361.03],[350.8,1361.05],[352.3,1361.10],[353.8,1361.13],[355.4,1361.20],[356.9,1361.32],[358.4,1361.25],[359.9,1361.20],[361.5,1361.00],[363.0,1360.76],[364.5,1360.51],[366.1,1360.43],[367.6,1360.41],[369.1,1360.71],[370.6,1360.93],[372.2,1360.95],[373.7,1360.95],[375.2,1360.98],[376.8,1360.98],[378.3,1361.00],[379.8,1360.98],[381.3,1361.00],[382.9,1361.03],[384.4,1360.98],[385.9,1360.93],[387.5,1361.03],[389.0,1361.05],[390.5,1360.83],[392.0,1360.80],[393.6,1360.90],[395.1,1361.00],[396.6,1361.00],[398.2,1360.90],[399.7,1360.83],[401.2,1360.88],[402.8,1360.98],
[403.7,1361.00],[405.2,1360.88],[406.7,1361.03],[408.3,1361.08],[409.8,1361.10],[411.3,1360.83],[412.8,1360.71],[414.4,1360.63],[415.9,1360.76],[417.4,1360.80],[419.0,1360.98],[420.5,1361.05],[423.6,1361.03],[426.6,1360.98],[428.1,1360.95],[429.7,1361.00],[431.2,1361.03],[432.7,1360.98],[435.8,1361.03],[437.3,1360.98],[438.8,1361.08],[441.9,1361.00],[443.4,1361.03],[445.0,1360.85],[446.5,1360.78],[448.0,1360.71],[449.5,1360.68],[451.1,1360.85],[452.6,1360.93],[454.1,1360.88],[455.7,1360.83],[457.2,1360.95],[460.2,1360.90],[463.3,1360.90],[466.4,1360.93],[467.9,1360.95],[469.4,1361.00],[471.0,1361.03],[474.0,1361.00],[475.5,1360.96],[478.6,1360.90],[481.7,1360.88],[484.7,1360.85],[486.2,1360.93],[489.3,1360.95],[492.4,1360.88],[495.4,1360.83],[498.5,1360.76],[501.5,1360.80],[504.6,1360.80],[506.1,1360.85],[509.2,1360.78],[513.8,1360.80],[518.4,1360.80],[521.4,1360.83],[524.5,1360.85],[529.1,1360.90],[532.1,1360.85],[535.2,1360.80],[539.8,1360.76],[544.3,1360.76],[545.9,1360.80],[548.9,1360.78],[552.0,1360.85],[553.5,1360.76],[556.6,1360.80],[559.6,1360.88],[564.2,1360.80],[568.8,1360.73],[571.9,1360.71],[574.9,1360.80],[578.0,1360.90],[581.0,1360.93],[585.6,1360.88],[590.2,1360.85],[593.3,1360.83],[597.9,1360.78],[600.9,1360.76],[605.5,1360.78],[610.1,1360.83],[614.7,1360.80],[616.2,1360.71],[617.7,1360.53],[619.3,1360.36],[620.8,1360.16],[622.3,1360.11],[623.9,1360.11],[625.4,1360.46],[626.9,1360.76],[628.4,1360.80],[631.5,1360.85],[634.6,1360.85],[637.6,1360.83],[640.7,1360.90],[642.2,1360.98],[645.3,1360.98],[648.3,1360.98],[649.9,1360.93],[651.4,1360.85],[652.9,1360.76],[654.4,1360.68],[656.0,1360.66],[657.5,1360.73],[660.6,1360.71],[663.6,1360.68],[666.7,1360.80],[669.7,1360.88],[671.3,1360.93],[674.3,1360.93],[677.4,1360.88],[680.4,1360.78],[682.0,1360.76],[685.0,1360.83],[688.1,1360.80],[691.1,1360.85],[694.2,1360.90],[697.3,1360.83],[700.3,1360.88],[704.9,1360.93],[706.4,1360.88],[708.0,1360.73],[709.5,1360.66],[712.5,1360.78],[714.1,1360.76],[715.6,1360.61],[717.1,1360.66],[718.7,1360.41],[720.2,1360.26],[721.7,1360.14],[723.2,1360.11],[724.8,1360.36],[726.3,1360.66],[727.8,1360.83],[729.4,1360.88],[732.4,1360.80],[734.0,1360.76],[738.5,1360.76],[741.6,1360.73],[744.7,1360.80],[747.7,1360.88],[750.8,1360.76],[753.8,1360.88],[755.4,1360.90],[758.4,1360.76],[759.9,1360.71],[761.5,1360.58],[763.0,1360.41],[764.5,1360.26],[766.1,1360.41],[767.6,1360.48],[769.1,1360.58],[770.6,1360.71],[772.2,1360.78],[773.7,1360.80],[775.2,1360.56],[776.8,1360.06],[778.3,1359.67],[779.8,1359.35],[780.7,1359.37],[782.0,1359.91],[782.9,1360.61],[784.4,1360.90],[786.0,1360.88],[787.5,1360.80],[789.0,1360.71],[790.5,1360.73],[792.1,1360.80],[793.6,1360.83],[795.1,1360.80],[796.7,1360.76],[798.2,1360.78],[799.7,1360.73]];

const W=1125,H=1350,L=140,R=1012;
const FONT='"DejaVu Sans", sans-serif';
const svg=d3.select('body').append('svg').attr('width',W).attr('height',H);
svg.append('rect').attr('width',W).attr('height',H).attr('fill','#fff');
const x=d3.scaleLinear().domain([0,800]).range([L,R]);
const defs=svg.append('defs');

const panels=[
 {top:162,bot:365,dom:[-5,12.5],ticks:rvTicks,fmt:d3.format('d'),data:rvData,color:'#ff0000',dots:true,legend:[188,20]},
 {top:365,bot:569,dom:[-5.0151,-4.9482],ticks:logrTicks,fmt:d3.format('.2f'),data:logrData,color:'#ff0000',dots:true,legend:[392,20]},
 {top:569,bot:773,dom:[15.1,55.1],ticks:brightTicks,fmt:d3.format('d'),data:brightData,color:'#000000'},
 {top:773,bot:977,dom:[0,2.5],ticks:spotTicks,fmt:d3.format('.1f'),data:spotData,color:'#000000'},
 {top:977,bot:1180,dom:[1359.22,1362.2],ticks:tsiTicks,fmt:d3.format('d'),data:tsiData,color:'#0000ff',legend:[1003,13]}
];

function styleAxis(g){
  g.select('.domain').remove();
  g.selectAll('line').attr('stroke','#000').attr('stroke-width',1.3);
  g.selectAll('text').style('font-family',FONT).style('font-size','21px').attr('fill','#000');
}

panels.forEach((p,i)=>{
  const y=d3.scaleLinear().domain(p.dom).range([p.bot,p.top]);
  const cid='clip'+i;
  defs.append('clipPath').attr('id',cid).append('rect').attr('x',L).attr('y',p.top).attr('width',R-L).attr('height',p.bot-p.top);
  const pg=svg.append('g').attr('clip-path',`url(#${cid})`);
  const line=d3.line().x(d=>x(d[0])).y(d=>y(d[1]));
  pg.append('path').datum(p.data).attr('d',line).attr('fill','none').attr('stroke',p.color).attr('stroke-width',1.5).attr('stroke-linejoin','round');
  if(p.dots){
    pg.selectAll('circle').data(p.data).join('circle').attr('cx',d=>x(d[0])).attr('cy',d=>y(d[1])).attr('r',2.8).attr('fill',p.color);
  }
  const gl=svg.append('g').attr('transform',`translate(${L},0)`).call(d3.axisLeft(y).tickValues(p.ticks).tickFormat(p.fmt).tickSizeInner(-6).tickSizeOuter(0).tickPadding(9));
  styleAxis(gl);
  const gr=svg.append('g').attr('transform',`translate(${R},0)`).call(d3.axisRight(y).tickValues(p.ticks).tickFormat('').tickSizeInner(-6).tickSizeOuter(0));
  styleAxis(gr);
  const gt=svg.append('g').attr('transform',`translate(0,${p.top})`).call(d3.axisTop(x).tickValues(xTicks).tickFormat('').tickSizeInner(-6).tickSizeOuter(0));
  styleAxis(gt);
  const last=i===panels.length-1;
  const gb=svg.append('g').attr('transform',`translate(0,${p.bot})`).call(d3.axisBottom(x).tickValues(xTicks).tickFormat(last?d3.format('d'):'').tickSizeInner(-6).tickSizeOuter(0).tickPadding(11));
  styleAxis(gb);
  svg.append('rect').attr('x',L).attr('y',p.top).attr('width',R-L).attr('height',p.bot-p.top).attr('fill','none').attr('stroke','#000').attr('stroke-width',1.5);
  if(p.legend){
    const [cy,h]=p.legend, lx=848;
    const lg=svg.append('g').attr('stroke',p.color).attr('stroke-width',1.5);
    lg.append('line').attr('x1',lx).attr('x2',lx).attr('y1',cy-h/2).attr('y2',cy+h/2);
    lg.append('line').attr('x1',lx-6).attr('x2',lx+6).attr('y1',cy-h/2).attr('y2',cy-h/2);
    lg.append('line').attr('x1',lx-6).attr('x2',lx+6).attr('y1',cy+h/2).attr('y2',cy+h/2);
    const t1=svg.append('text').attr('x',866).attr('y',p.top+32).style('font-family',FONT).style('font-size','20px').attr('fill','#000');
    t1.append('tspan').text('±');
    t1.append('tspan').text('σ').style('font-style','italic');
    t1.append('tspan').text(' statistical');
    svg.append('text').attr('x',866).attr('y',p.top+56).style('font-family',FONT).style('font-size','20px').attr('fill','#000').text('uncertainty');
  }
});

function ylab(bx,cy,parts,size){
  const t=svg.append('text').attr('transform',`translate(${bx},${cy}) rotate(-90)`).attr('text-anchor','middle')
    .style('font-family',FONT).style('font-size',size+'px').attr('fill','#000');
  parts.forEach(q=>{
    const s=t.append('tspan').text(q.t);
    if(q.i) s.style('font-style','italic');
    if(q.dy) s.attr('dy',q.dy);
    if(q.fs) s.style('font-size',q.fs+'px');
  });
}
ylab(51,282,[{t:'HARPS-N'}],24);
ylab(81,247,[{t:'RV (m/s)'}],24);
ylab(43,462,[{t:'log '},{t:'R',i:true},{t:'′'},{t:'HK',i:true,fs:19,dy:6}],27);
ylab(48,672,[{t:'f',i:true},{t:'bright',i:true,fs:19,dy:6},{t:' (×\u200910',dy:-6},{t:'3',fs:18,dy:-10},{t:')',dy:10}],27);
ylab(48,876,[{t:'f',i:true},{t:'spot',i:true,fs:19,dy:6},{t:' (×\u200910',dy:-6},{t:'3',fs:18,dy:-10},{t:')',dy:10}],27);
ylab(57,1085,[{t:'TSI ('},{t:'W/m',i:true},{t:'2',fs:18,dy:-10},{t:')',dy:10}],27);

const xl=svg.append('text').attr('x',576).attr('y',1244).attr('text-anchor','middle').style('font-family',FONT).style('font-size','28px').attr('fill','#000');
xl.append('tspan').text('JD').style('font-style','italic');
xl.append('tspan').text(' − 2457222.5');
</script>
</body></html>
